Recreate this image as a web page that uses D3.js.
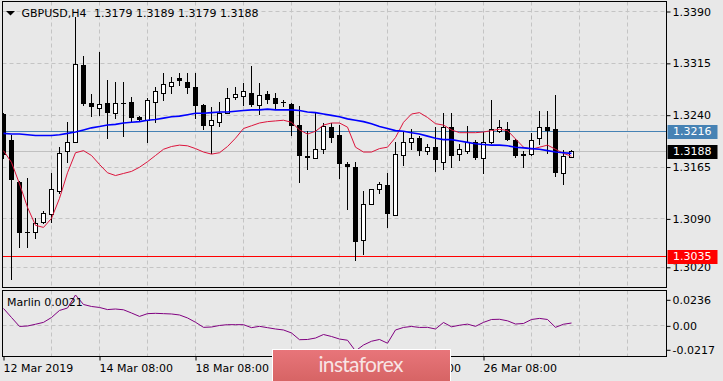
<!DOCTYPE html>
<html><head><meta charset="utf-8">
<script src="https://cdn.jsdelivr.net/npm/d3@7"></script>
<style>
html,body{margin:0;padding:0;background:#e8e8e8;overflow:hidden}
text{font-family:"DejaVu Sans",sans-serif;font-size:11px;fill:#000}
</style>
</head><body>
<svg id="chart" width="723" height="381"></svg>
<script>
// ---------- data ----------
const symbol = "GBPUSD,H4";
const indicatorName = "Marlin";
const barIndex = d3.range(72);
const open = [1.3241,1.3203,1.3143,1.3071,1.3071,1.3085,1.3097,1.3130,1.3187,1.3201,
1.3312,1.3257,1.3249,1.3257,1.3242,1.3257,1.3258,1.3236,1.3233,1.3258,
1.3272,1.3281,1.3293,1.3288,1.3280,1.3254,1.3225,1.3229,1.3243,1.3265,
1.3267,1.3272,1.3254,1.3270,1.3264,1.3258,1.3255,1.3225,1.3180,1.3178,
1.3191,1.3222,1.3210,1.3169,1.3165,1.3059,1.3111,1.3132,1.3139,1.3095,
1.3181,1.3200,1.3207,1.3188,1.3193,1.3172,1.3222,1.3183,1.3187,1.3201,
1.3178,1.3200,1.3217,1.3220,1.3204,1.3183,1.3183,1.3206,1.3222,1.3219,
1.3155,1.3179];
const high = [1.3243,1.3210,1.3144,1.3148,1.3090,1.3100,1.3155,1.3193,1.3229,1.3381,
1.3325,1.3270,1.3331,1.3290,1.3287,1.3287,1.3265,1.3238,1.3264,1.3280,
1.3300,1.3294,1.3300,1.3300,1.3300,1.3255,1.3251,1.3258,1.3278,1.3280,
1.3286,1.3310,1.3286,1.3275,1.3271,1.3261,1.3257,1.3252,1.3217,1.3243,
1.3228,1.3228,1.3225,1.3172,1.3171,1.3129,1.3133,1.3142,1.3156,1.3201,
1.3217,1.3220,1.3209,1.3198,1.3222,1.3243,1.3243,1.3197,1.3223,1.3203,
1.3215,1.3261,1.3232,1.3230,1.3205,1.3188,1.3213,1.3246,1.3246,1.3268,
1.3189,1.3189];
const low = [1.3177,1.3003,1.3048,1.3048,1.3061,1.3084,1.3085,1.3127,1.3172,1.3200,
1.3254,1.3238,1.3239,1.3207,1.3235,1.3209,1.3230,1.3232,1.3200,1.3229,
1.3261,1.3272,1.3283,1.3271,1.3235,1.3220,1.3184,1.3223,1.3242,1.3262,
1.3254,1.3252,1.3241,1.3257,1.3249,1.3252,1.3210,1.3143,1.3162,1.3177,
1.3184,1.3200,1.3149,1.3104,1.3030,1.3039,1.3111,1.3127,1.3078,1.3095,
1.3167,1.3191,1.3181,1.3183,1.3158,1.3162,1.3164,1.3175,1.3184,1.3176,
1.3155,1.3199,1.3215,1.3203,1.3179,1.3164,1.3182,1.3198,1.3184,1.3151,
1.3140,1.3179];
const close = [1.3181,1.3145,1.3069,1.3069,1.3084,1.3098,1.3133,1.3185,1.3201,1.3313,
1.3255,1.3251,1.3255,1.3242,1.3257,1.3256,1.3235,1.3233,1.3261,1.3274,
1.3284,1.3288,1.3289,1.3278,1.3252,1.3223,1.3232,1.3242,1.3264,1.3270,
1.3274,1.3254,1.3268,1.3261,1.3255,1.3257,1.3223,1.3180,1.3178,1.3191,
1.3223,1.3207,1.3169,1.3164,1.3056,1.3111,1.3133,1.3140,1.3097,1.3183,
1.3200,1.3206,1.3187,1.3194,1.3174,1.3222,1.3180,1.3190,1.3201,1.3177,
1.3200,1.3220,1.3222,1.3204,1.3180,1.3180,1.3204,1.3222,1.3216,1.3156,
1.3180,1.3188];
const maSlow = [1.3213,1.3212,1.3212,1.3211,1.3210,1.3210,1.3210,1.3211,1.3213,1.3215,
1.3218,1.3221,1.3223,1.3225,1.3226,1.3228,1.3229,1.3230,1.3232,1.3233,
1.3235,1.3237,1.3238,1.3240,1.3242,1.3242,1.3243,1.3244,1.3244,1.3245,
1.3246,1.3247,1.3247,1.3248,1.3247,1.3247,1.3247,1.3246,1.3244,1.3243,
1.3241,1.3239,1.3237,1.3234,1.3232,1.3230,1.3227,1.3223,1.3220,1.3217,
1.3216,1.3214,1.3212,1.3209,1.3206,1.3204,1.3204,1.3202,1.3200,1.3198,
1.3197,1.3196,1.3196,1.3195,1.3193,1.3192,1.3191,1.3190,1.3188,1.3186,
1.3185,1.3184];
const maFast = [1.3188,1.3171,1.3140,1.3106,1.3080,1.3077,1.3090,1.3119,1.3156,1.3185,
1.3188,1.3181,1.3168,1.3156,1.3152,1.3155,1.3158,1.3164,1.3172,1.3181,
1.3190,1.3194,1.3196,1.3195,1.3191,1.3186,1.3183,1.3185,1.3194,1.3206,
1.3220,1.3224,1.3228,1.3230,1.3231,1.3232,1.3229,1.3218,1.3212,1.3216,
1.3225,1.3228,1.3228,1.3222,1.3193,1.3186,1.3186,1.3191,1.3193,1.3207,
1.3229,1.3241,1.3243,1.3236,1.3227,1.3225,1.3218,1.3214,1.3214,1.3214,
1.3215,1.3217,1.3219,1.3217,1.3205,1.3193,1.3190,1.3193,1.3196,1.3190,
1.3184,1.3180];
const marlin = [0.0153,0.0071,-0.0010,-0.0006,0.0010,0.0027,0.0071,0.0135,0.0157,0.0275,
0.0189,0.0171,0.0162,0.0143,0.0148,0.0141,0.0112,0.0081,0.0106,0.0109,
0.0106,0.0103,0.0094,0.0067,0.0028,-0.0018,-0.0015,-0.0001,0.0006,0.0006,
0.0006,-0.0021,-0.0009,-0.0021,-0.0033,-0.0042,-0.0069,-0.0130,-0.0128,-0.0115,
-0.0083,-0.0101,-0.0124,-0.0135,-0.0232,-0.0178,-0.0144,-0.0128,-0.0162,-0.0042,
-0.0019,-0.0010,-0.0019,-0.0018,-0.0033,0.0026,-0.0013,0.0001,0.0011,-0.0009,
0.0027,0.0053,0.0055,0.0041,0.0012,0.0017,0.0053,0.0063,0.0053,-0.0018,
0.0010,0.0021];
const priceTicks = [1.3390,1.3315,1.3240,1.3165,1.3090,1.3020];
const marlinTicks = [0.0236,0,-0.0217];
const marlinTickLabels = ["0.0236","0.00","-0.0217"];
const timeTickBars = [0,12,24,36,48,60];
const timeTickLabels = ["12 Mar 2019","14 Mar 08:00","18 Mar 08:00","20 Mar 08:00","22 Mar 08:00","26 Mar 08:00"];
const levelPrices = [1.3216,1.3188,1.3035];
const watermark = "instaforex";

// ---------- layout / style ----------
const L = 2.5, R = 666.5, mainTop = 1.5, mainBot = 288, indTop = 290.5, indBot = 356.5;
const levelColors = ["#4682b4","#c0c0c0","#ff0000"];
const levelLabelBg = ["#4682b4","#000000","#ff0000"];
const gridColor = "#c4c4c4";

const svg = d3.select("#chart");
const x = d3.scaleLinear().domain([0,83]).range([3,667]);
const y = d3.scaleLinear().domain([1.3020,1.3390]).range([266.8,11]);
const ym = d3.scaleLinear().domain([-0.0217,0.0236]).range([349.3,299.3]);

svg.append("rect").attr("width",723).attr("height",381).attr("fill","#e8e8e8");

const defs = svg.append("defs");
defs.append("clipPath").attr("id","clipMain").append("rect")
  .attr("x",L).attr("y",mainTop).attr("width",R-L).attr("height",mainBot-mainTop);
defs.append("clipPath").attr("id","clipInd").append("rect")
  .attr("x",L).attr("y",indTop).attr("width",R-L).attr("height",indBot-indTop);
const grad = defs.append("linearGradient").attr("id","logoGrad").attr("x1",0).attr("x2",0).attr("y1",0).attr("y2",1);
grad.append("stop").attr("offset","0%").attr("stop-color","#e8757a");
grad.append("stop").attr("offset","100%").attr("stop-color","#d2605f");

// ---------- grids ----------
const gridBars = d3.range(6,84,6);
const gMain = svg.append("g").attr("clip-path","url(#clipMain)");
gMain.selectAll("line.vg").data(gridBars).join("line")
  .attr("x1",d=>Math.round(x(d))+0.5).attr("x2",d=>Math.round(x(d))+0.5)
  .attr("y1",mainTop).attr("y2",mainBot)
  .attr("stroke",gridColor).attr("stroke-dasharray","4,3");
gMain.selectAll("line.hg").data(priceTicks).join("line")
  .attr("x1",L).attr("x2",R)
  .attr("y1",d=>Math.round(y(d))+0.5).attr("y2",d=>Math.round(y(d))+0.5)
  .attr("stroke",gridColor).attr("stroke-dasharray","4,3");

const gInd = svg.append("g").attr("clip-path","url(#clipInd)");
gInd.selectAll("line.vg").data(gridBars).join("line")
  .attr("x1",d=>Math.round(x(d))+0.5).attr("x2",d=>Math.round(x(d))+0.5)
  .attr("y1",indTop).attr("y2",indBot)
  .attr("stroke",gridColor).attr("stroke-dasharray","4,3");
gInd.append("line").attr("x1",L).attr("x2",R)
  .attr("y1",Math.round(ym(0))+0.5).attr("y2",Math.round(ym(0))+0.5)
  .attr("stroke",gridColor).attr("stroke-dasharray","4,3");

// ---------- horizontal levels ----------
gMain.selectAll("line.lvl").data(levelPrices).join("line")
  .attr("x1",L).attr("x2",R)
  .attr("y1",d=>Math.round(y(d))+0.5).attr("y2",d=>Math.round(y(d))+0.5)
  .attr("stroke",(d,i)=>levelColors[i]).attr("stroke-width",1);

// ---------- candles ----------
const candles = barIndex.map(i=>({i,o:open[i],h:high[i],l:low[i],c:close[i]}));
const gc = gMain.append("g");
gc.selectAll("line.wick").data(candles).join("line")
  .attr("x1",d=>x(d.i)+0.5).attr("x2",d=>x(d.i)+0.5)
  .attr("y1",d=>Math.round(y(d.h))).attr("y2",d=>Math.round(y(d.l))+1)
  .attr("stroke","#000").attr("stroke-width",1);
gc.selectAll("rect.body").data(candles).join("rect")
  .each(function(d){
    const s = d3.select(this);
    const yo = Math.round(y(d.o)), yc = Math.round(y(d.c));
    if (d.c > d.o) {
      s.attr("x",x(d.i)-1.5).attr("y",yc+0.5).attr("width",4)
       .attr("height",Math.max(yo-yc,1)).attr("fill","#fff").attr("stroke","#000");
    } else {
      s.attr("x",x(d.i)-2).attr("y",yo).attr("width",5)
       .attr("height",Math.max(yc-yo,1)).attr("fill","#000");
    }
  });

// ---------- moving averages ----------
const lineMain = d3.line().x((d,i)=>x(i)+0.5).y(d=>y(d));
gMain.append("path").datum(maFast).attr("d",lineMain)
  .attr("fill","none").attr("stroke","#dc143c").attr("stroke-width",1);
gMain.append("path").datum(maSlow).attr("d",lineMain)
  .attr("fill","none").attr("stroke","#0000ff").attr("stroke-width",1.6);

// ---------- indicator ----------
gInd.append("path").datum(marlin)
  .attr("d",d3.line().x((d,i)=>x(i)+0.5).y(d=>ym(d)))
  .attr("fill","none").attr("stroke","#800080").attr("stroke-width",1);

// ---------- frames ----------
svg.append("rect").attr("x",L).attr("y",mainTop).attr("width",R-L).attr("height",mainBot-mainTop-0.5)
  .attr("fill","none").attr("stroke","#000");
svg.append("rect").attr("x",L).attr("y",indTop).attr("width",R-L).attr("height",indBot-indTop)
  .attr("fill","none").attr("stroke","#000");

// ---------- axes ----------
const axR = svg.append("g").attr("transform",`translate(${R},0.5)`)
  .call(d3.axisRight(y).tickValues(priceTicks).tickFormat(d3.format(".4f")).tickSize(4).tickPadding(2));
axR.select(".domain").remove();
axR.selectAll("text").style("font-size","11px").style("font-family","DejaVu Sans");

const axRI = svg.append("g").attr("transform",`translate(${R},0.5)`)
  .call(d3.axisRight(ym).tickValues(marlinTicks).tickFormat((d,i)=>marlinTickLabels[i]).tickSize(4).tickPadding(2));
axRI.select(".domain").remove();
axRI.selectAll("text").style("font-size","11px").style("font-family","DejaVu Sans");

const axB = svg.append("g").attr("transform",`translate(0.5,${indBot})`)
  .call(d3.axisBottom(x).tickValues(timeTickBars).tickFormat((d,i)=>timeTickLabels[i]).tickSize(4).tickPadding(3.5));
axB.select(".domain").remove();
axB.selectAll("text").attr("text-anchor","start").attr("x",-0.5)
  .style("font-size","11px").style("font-family","DejaVu Sans");

// ---------- level price labels ----------
const lv = svg.append("g");
levelPrices.forEach((p,i)=>{
  const yy = y(p);
  lv.append("rect").attr("x",R+1).attr("y",Math.round(yy)-6).attr("width",50).attr("height",14)
    .attr("fill",levelLabelBg[i]);
  lv.append("text").attr("x",R+6.5).attr("y",Math.round(yy)+0.5).attr("dy","0.35em")
    .style("fill","#ffffff").text(d3.format(".4f")(p));
});

// ---------- titles ----------
svg.append("path").attr("d","M6,11L15,11L10.5,15.5Z").attr("fill","#000");
svg.append("text").attr("x",21.5).attr("y",16.5).text(symbol);
const last = barIndex.length-1;
svg.append("text").attr("x",94).attr("y",16.5)
  .text([open[last],high[last],low[last],close[last]].map(d3.format(".4f")).join(" "));
svg.append("text").attr("x",7).attr("y",305.5).text(indicatorName+" "+d3.format(".4f")(marlin[last]));

// ---------- watermark ----------
const wm = svg.append("g");
wm.append("rect").attr("x",272.5).attr("y",349.5).attr("width",178).attr("height",40)
  .attr("fill","url(#logoGrad)").attr("stroke","#ffffff").attr("stroke-width",1);
wm.append("text").attr("x",318.5).attr("y",372.3).attr("textLength",85)
  .style("font-family","Lato, 'Open Sans', sans-serif").style("font-size","21px")
  .style("fill","#f8e4e4").text(watermark);
</script>
</body></html>
